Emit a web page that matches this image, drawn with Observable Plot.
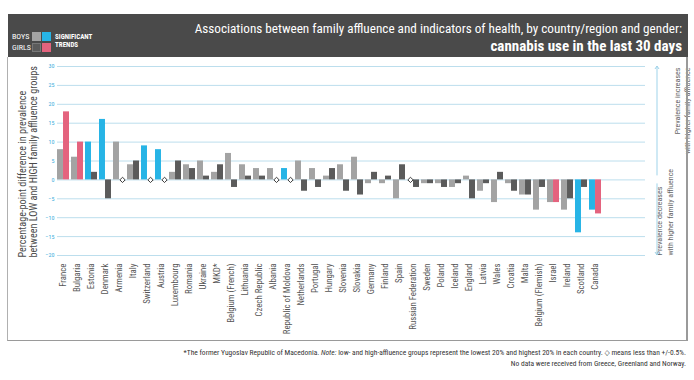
<!DOCTYPE html>
<html>
<head>
<meta charset="utf-8">
<script src="https://cdn.jsdelivr.net/npm/d3@7"></script>
<script src="https://cdn.jsdelivr.net/npm/@observablehq/plot@0.6"></script>
<style>
  body { margin: 0; background: #fff; font-family: "Liberation Sans Narrow", "Roboto Condensed", "DejaVu Sans Condensed", sans-serif; }
  #page { position: relative; width: 694px; height: 380px; overflow: hidden; }
  #header { position: absolute; left: 8px; top: 14px; width: 680px; height: 43px; background: #4a4a4a; color: #fff; }
  #frame { position: absolute; left: 7px; top: 57px; width: 678px; height: 283px; border-left: 1px solid #b0b0b0; border-right: 2px solid #9a9a9a; border-bottom: 1px solid #9a9a9a; pointer-events: none; }
  #chart { position: absolute; left: 0; top: 57px; }
  #chart svg { overflow: visible; }
  .lg { position: absolute; font-size: 8px; line-height: 8px; }
  .sq { position: absolute; width: 9px; height: 9px; }
  .sig { position: absolute; font-size: 7px; font-weight: bold; line-height: 8px; }
  #t1 { position: absolute; right: 6px; top: 7px; font-size: 13.2px; white-space: nowrap; }
  #t2 { position: absolute; right: 6px; top: 23px; font-size: 15px; font-weight: bold; white-space: nowrap; }
  .foot { position: absolute; right: 8px; font-size: 7.5px; color: #333; white-space: nowrap; }
</style>
</head>
<body>
<div id="page">
  <div id="header">
    <div class="lg" style="left:4px; top:19px;">BOYS</div>
    <div class="lg" style="left:4px; top:30px;">GIRLS</div>
    <div class="sq" style="left:24px; top:18px; background:#a3a3a3;"></div>
    <div class="sq" style="left:34px; top:18px; background:#27b4e6;"></div>
    <div class="sq" style="left:24px; top:29px; background:#5b5b5b; box-shadow: 0 0 0 1px #777 inset;"></div>
    <div class="sq" style="left:34px; top:29px; background:#e4637e;"></div>
    <div class="sig" style="left:47px; top:19px;">SIGNIFICANT<br>TRENDS</div>
    <div id="t1">Associations between family affluence and indicators of health, by country/region and gender:</div>
    <div id="t2">cannabis use in the last 30 days</div>
  </div>
  <div id="chart"></div>
  <div id="frame"></div>
  <div class="foot" style="top:348px;">*The former Yugoslav Republic of Macedonia. <i>Note:</i> low- and high-affluence groups represent the lowest 20% and highest 20% in each country. ◇ means less than +/-0.5%.</div>
  <div class="foot" style="top:359px;">No data were received from Greece, Greenland and Norway.</div>
</div>
<script>
const countries = ["France","Bulgaria","Estonia","Denmark","Armenia","Italy","Switzerland","Austria","Luxembourg","Romania","Ukraine","MKD*","Belgium (French)","Lithuania","Czech Republic","Albania","Republic of Moldova","Netherlands","Portugal","Hungary","Slovenia","Slovakia","Germany","Finland","Spain","Russian Federation","Sweden","Poland","Iceland","England","Latvia","Wales","Croatia","Malta","Belgium (Flemish)","Israel","Ireland","Scotland","Canada"];
// null = less than +/-0.5% (diamond)
const boys  = [8, 6, 10, 16, 10, 4, 9, 8, 2, 4, 5, 2, 7, 4, 3, 3, 3, 5, 3, 1, 4, 6, -1, -1, -5, null, -1, -1, -2, 1, -3, -6, -1, -4, -8, -6, -8, -14, -8];
const girls = [18, 10, 2, -5, null, 5, null, null, 5, 3, 1, 4, -2, 1, 1, null, null, -3, -2, 3, -3, -4, 2, 1, 4, -2, -1, -2, -1, -5, -1, 2, -3, -4, -2, -6, -5, -2, -9];
const sigBoys  = ["Estonia","Denmark","Switzerland","Austria","Republic of Moldova","Scotland","Canada"];
const sigGirls = ["France","Bulgaria","Israel","Canada"];
const yTicks = [30, 25, 20, 15, 10, 5, 0, -5, -10, -15, -20];
const yTitle = "Percentage-point difference in prevalence\nbetween LOW and HIGH family affluence groups";
const upNote = "Prevalence increases\nwith higher family affluence";
const downNote = "Prevalence decreases\nwith higher family affluence";

const C = {boyGrey: "#a3a3a3", girlGrey: "#5b5b5b", blue: "#27b4e6", pink: "#e4637e", grid: "#bcdeed", axis: "#3aaedc"};

const rows = countries.map((c, i) => ({
  country: c, boys: boys[i], girls: girls[i],
  boysColor: sigBoys.includes(c) ? C.blue : C.boyGrey,
  girlsColor: sigGirls.includes(c) ? C.pink : C.girlGrey
}));

const xRange = [56, 602], padIn = 0.14, padOut = 0.07;
const step = (xRange[1] - xRange[0]) / (countries.length - padIn + 2 * padOut);
const bw = step * (1 - padIn);

const plot = Plot.plot({
  width: 694, height: 284,
  marginLeft: 57, marginRight: 49, marginTop: 9, marginBottom: 86,
  style: {fontFamily: '"Liberation Sans Narrow", "Roboto Condensed", "DejaVu Sans Condensed", sans-serif', fontSize: "8.5px", background: "transparent", overflow: "visible"},
  x: {domain: countries, range: xRange, paddingInner: padIn, paddingOuter: padOut},
  y: {domain: [-20, 30]},
  color: {type: "identity"},
  marks: [
    Plot.ruleY(yTicks, {stroke: C.grid, strokeWidth: 1}),
    Plot.barY(rows, {x: "country", y: "boys", fill: "boysColor", insetRight: bw / 2}),
    Plot.barY(rows, {x: "country", y: "girls", fill: "girlsColor", insetLeft: bw / 2}),
    Plot.dot(rows.filter(d => d.boys == null), {x: "country", y: () => 0, dx: -bw / 4, symbol: "diamond2", r: 2.4, fill: "white", stroke: "#3a3a3a", strokeWidth: 1}),
    Plot.dot(rows.filter(d => d.girls == null), {x: "country", y: () => 0, dx: bw / 4, symbol: "diamond2", r: 2.4, fill: "white", stroke: "#3a3a3a", strokeWidth: 1}),
    Plot.axisY({ticks: yTicks, tickSize: 0, tickPadding: 3, fontSize: 6, fill: C.axis, label: null}),
    Plot.axisX({tickSize: 0, tickPadding: 8, tickRotate: -90, fontSize: 8.8, fill: "#555", label: null}),
    Plot.text([yTitle], {frameAnchor: "bottom-left", dx: -21, dy: 2, rotate: -90, textAnchor: "start", fontSize: 10.2, fill: "#4a4a4a", lineHeight: 1.0}),
    Plot.text([upNote], {frameAnchor: "top-right", dx: 27, dy: 1, rotate: -90, textAnchor: "end", fontSize: 8, fill: "#666", lineHeight: 1.3}),
    Plot.text([downNote], {frameAnchor: "bottom-right", dx: 27, dy: 0, rotate: -90, textAnchor: "start", fontSize: 8, fill: "#666", lineHeight: 1.3})
  ]
});

// side arrows using the chart's y scale
const ys = plot.scale("y");
const yPix = v => ys.apply(v);
const ax = 657;
const g = d3.select(plot).append("g").attr("stroke", "#9fd3ea").attr("fill", "none").attr("stroke-width", 1);
g.append("line").attr("x1", ax).attr("x2", ax).attr("y1", yPix(30)).attr("y2", yPix(0) - 4);
g.append("line").attr("x1", ax).attr("x2", ax).attr("y1", yPix(0) + 4).attr("y2", yPix(-20));
g.append("path").attr("d", `M${ax - 2},${yPix(30) + 3}L${ax},${yPix(30)}L${ax + 2},${yPix(30) + 3}`);
g.append("path").attr("d", `M${ax - 2},${yPix(-20) - 3}L${ax},${yPix(-20)}L${ax + 2},${yPix(-20) - 3}`);

document.getElementById("chart").appendChild(plot);
</script>
</body>
</html>
